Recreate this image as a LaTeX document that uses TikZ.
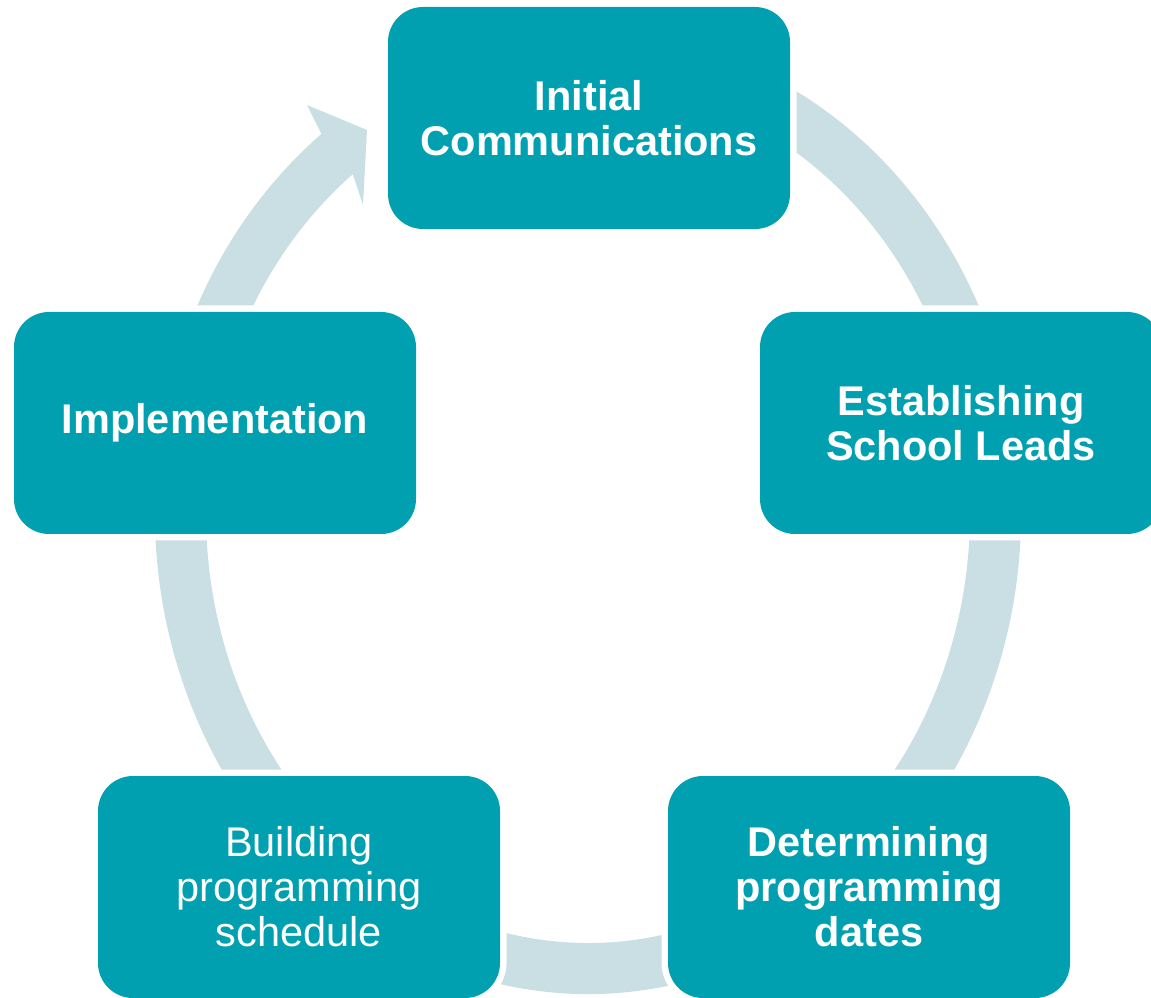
\documentclass[tikz,border=0pt]{standalone}
\usepackage{fontspec}
\setmainfont{Liberation Sans}
\usetikzlibrary{calc}
\definecolor{boxteal}{RGB}{0,160,176}
\definecolor{ringblue}{RGB}{202,223,228}
\begin{document}
\begin{tikzpicture}[x=1pt,y=1pt,
  stepbox/.style={fill=boxteal, rounded corners=35pt, minimum width=402pt,
    minimum height=222pt, inner sep=0pt, text=white, align=center,
    font=\fontsize{41.5}{45}\selectfont\bfseries,
    preaction={draw=white, line width=13pt}},
  stepreg/.style={stepbox, font=\fontsize{41.5}{45}\selectfont},
  ring/.style={fill=ringblue}]
\useasboundingbox (0,0) rectangle (1151,997);
\clip (0,0) rectangle (1151,997);
\coordinate (C) at (588,484);
% cycle ring with arrowhead
\fill[ring] ($(C)+(70:433 and 481)$)
  arc[start angle=70, end angle=-232, x radius=433, y radius=481]
  -- (307,892) -- (367,867) -- (363,792)
  -- ($(C)+(-232:382 and 430)$)
  arc[start angle=-232, end angle=70, x radius=382, y radius=430]
  -- cycle;
% steps
\node[stepbox] (init) at (589,879) {Initial\\Communications};
\node[stepbox] (estab) at (961,574) {Establishing\\School Leads};
\node[stepbox] (determ) at (869,110) {Determining\\programming\\dates};
\node[stepreg] (build) at (299,110) {Building\\programming\\schedule};
\node[stepbox] (impl) at (215,574) {Implementation};
\end{tikzpicture}
\end{document}
